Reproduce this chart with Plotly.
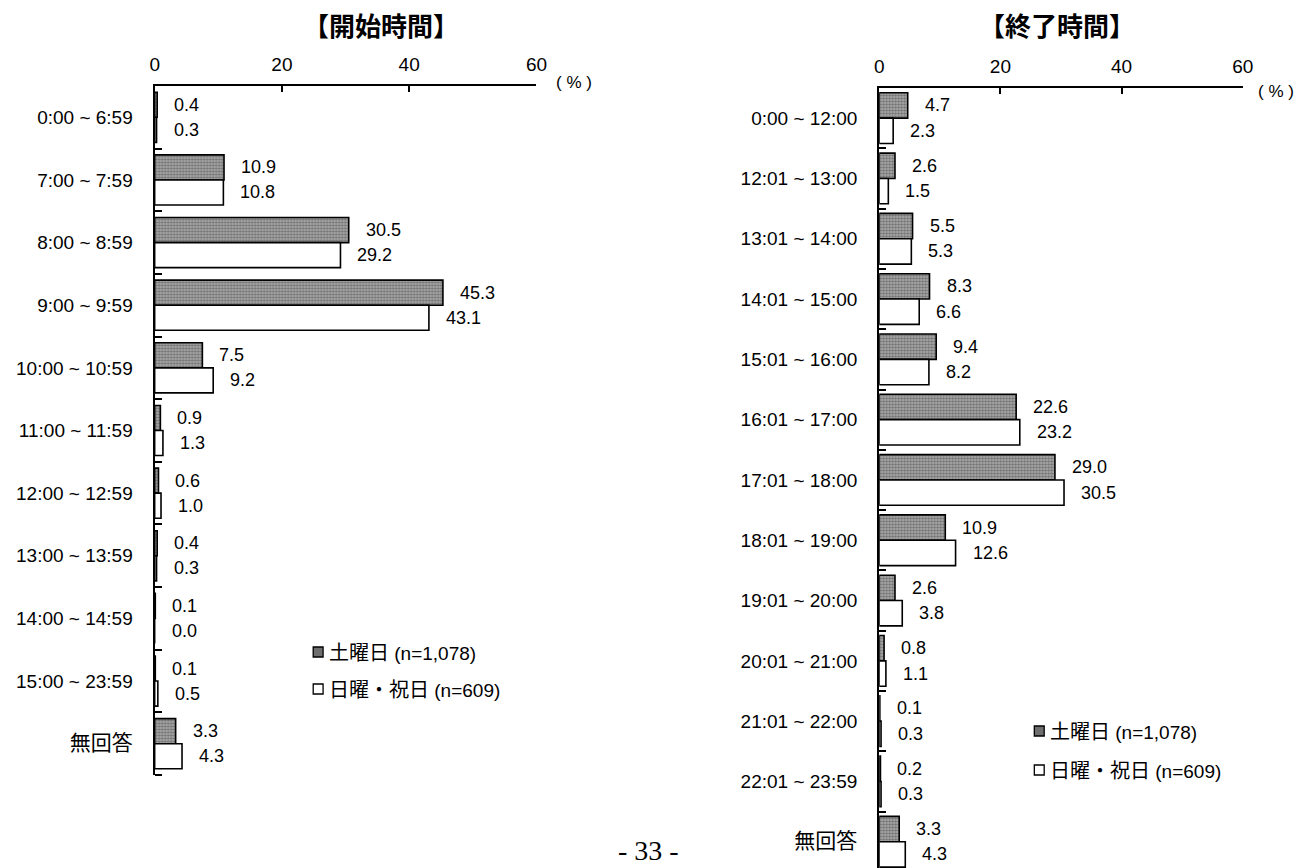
import plotly.graph_objects as go

W, H = 1315, 868

# ---------------- data ----------------
start_categories = ["0:00 ~ 6:59", "7:00 ~ 7:59", "8:00 ~ 8:59", "9:00 ~ 9:59",
                    "10:00 ~ 10:59", "11:00 ~ 11:59", "12:00 ~ 12:59", "13:00 ~ 13:59",
                    "14:00 ~ 14:59", "15:00 ~ 23:59", "無回答"]
start_sat = [0.4, 10.9, 30.5, 45.3, 7.5, 0.9, 0.6, 0.4, 0.1, 0.1, 3.3]
start_sun = [0.3, 10.8, 29.2, 43.1, 9.2, 1.3, 1.0, 0.3, 0.0, 0.5, 4.3]

end_categories = ["0:00 ~ 12:00", "12:01 ~ 13:00", "13:01 ~ 14:00", "14:01 ~ 15:00",
                  "15:01 ~ 16:00", "16:01 ~ 17:00", "17:01 ~ 18:00", "18:01 ~ 19:00",
                  "19:01 ~ 20:00", "20:01 ~ 21:00", "21:01 ~ 22:00", "22:01 ~ 23:59", "無回答"]
end_sat = [4.7, 2.6, 5.5, 8.3, 9.4, 22.6, 29.0, 10.9, 2.6, 0.8, 0.1, 0.2, 3.3]
end_sun = [2.3, 1.5, 5.3, 6.6, 8.2, 23.2, 30.5, 12.6, 3.8, 1.1, 0.3, 0.3, 4.3]

x_ticks = [0, 20, 40, 60]
titles = ["【開始時間】", "【終了時間】"]
series_names = ["土曜日", "日曜・祝日"]
series_n = ["(n=1,078)", "(n=609)"]

# ---------------- styling ----------------
FONT = "Liberation Sans, Arial, Noto Sans CJK JP, sans-serif"
JFONT = "Noto Sans CJK JP, sans-serif"


def px(x):
    return x / W


def py(y):
    return 1 - y / H


sat_marker = dict(color="#b0b0b0", line=dict(color="black", width=1.6),
                  pattern=dict(shape=".", fgcolor="#333333", bgcolor="#b0b0b0",
                               size=3, solidity=0.5))
sun_marker = dict(color="white", line=dict(color="black", width=1.6))


def cat_label(c):
    if c == "無回答":
        return '<span style="font-size:21px">' + c + "</span>"
    return c


fig = go.Figure()

panels = [
    dict(cats=start_categories, sat=start_sat, sun=start_sun, xa="x", ya="y", bw=0.4),
    dict(cats=end_categories, sat=end_sat, sun=end_sun, xa="x2", ya="y2", bw=0.42),
]

annotations = []
for p in panels:
    idx = list(range(len(p["cats"])))
    bw = p["bw"]
    fig.add_trace(go.Bar(y=idx, x=p["sat"], orientation="h", width=bw, offset=-bw,
                         marker=sat_marker, xaxis=p["xa"], yaxis=p["ya"],
                         showlegend=False, hoverinfo="x"))
    fig.add_trace(go.Bar(y=idx, x=p["sun"], orientation="h", width=bw, offset=0,
                         marker=sun_marker, xaxis=p["xa"], yaxis=p["ya"],
                         showlegend=False, hoverinfo="x"))
    for i, (a, b) in enumerate(zip(p["sat"], p["sun"])):
        annotations.append(dict(x=a, y=i - bw / 2, xref=p["xa"], yref=p["ya"],
                                text=f"{a:.1f}", showarrow=False, xanchor="left",
                                yanchor="middle", xshift=15,
                                font=dict(family=FONT, size=18, color="black")))
        annotations.append(dict(x=b, y=i + bw / 2, xref=p["xa"], yref=p["ya"],
                                text=f"{b:.1f}", showarrow=False, xanchor="left",
                                yanchor="middle", xshift=15,
                                font=dict(family=FONT, size=18, color="black")))

# axes
common_x = dict(range=[0, 60], tickvals=x_ticks, side="top", showline=True,
                linecolor="black", linewidth=1.5, ticks="inside", ticklen=6,
                tickcolor="black", tickwidth=1.5, showgrid=False, zeroline=False,
                tickfont=dict(family=FONT, size=19, color="black"),
                ticklabelstandoff=6, fixedrange=True)

fig.update_layout(
    width=W, height=H,
    margin=dict(l=0, r=0, t=0, b=0),
    paper_bgcolor="white", plot_bgcolor="white",
    barmode="overlay",
    xaxis=dict(common_x, domain=[px(151.5), px(538)], anchor="y"),
    yaxis=dict(domain=[py(775), py(86)], range=[len(start_categories) - 0.5, -0.5],
               tickvals=list(range(len(start_categories))),
               ticktext=[cat_label(c) for c in start_categories],
               ticks="", showline=True, linecolor="black", linewidth=2.2,
               showgrid=False, zeroline=False, anchor="x",
               tickfont=dict(family=FONT, size=19, color="black"),
               ticklabelstandoff=16,
               minor=dict(tickvals=[i + 0.5 for i in range(len(start_categories))],
                          ticks="inside", ticklen=7, tickcolor="black", tickwidth=1.5),
               fixedrange=True),
    xaxis2=dict(common_x, domain=[px(885), px(1253)], anchor="y2"),
    yaxis2=dict(domain=[0, py(88)], range=[-0.5 + (868 - 88) / 60.3, -0.5],
                tickvals=list(range(len(end_categories))),
                ticktext=[cat_label(c) for c in end_categories],
                ticks="", showline=True, linecolor="black", linewidth=2.2,
                showgrid=False, zeroline=False, anchor="x2",
                tickfont=dict(family=FONT, size=19, color="black"),
                ticklabelstandoff=16,
                minor=dict(tickvals=[i + 0.5 for i in range(len(end_categories))],
                           ticks="inside", ticklen=7, tickcolor="black", tickwidth=1.5),
                fixedrange=True),
)

# titles
for t, cx in zip(titles, [381, 1065]):
    annotations.append(dict(x=px(cx), y=py(25), xref="paper", yref="paper", text="<b>" + t + "</b>",
                            showarrow=False, xanchor="center", yanchor="middle",
                            font=dict(family=JFONT, size=26, color="black")))

# (%) units
for cx, cy in [(576, 83), (1287, 91)]:
    annotations.append(dict(x=px(cx), y=py(cy), xref="paper", yref="paper", text="( % )",
                            showarrow=False, xanchor="center", yanchor="middle",
                            font=dict(family=FONT, size=17, color="black")))

# legends (manual)
shapes = []
legend_pos = [(312, 652, 689), (1042, 731, 770)]
for lx, y1, y2 in legend_pos:
    for k, yy in enumerate([y1, y2]):
        fill = "#6e6e6e" if k == 0 else "white"
        shapes.append(dict(type="rect", xref="paper", yref="paper",
                           x0=px(lx), x1=px(lx + 10), y0=py(yy + 5), y1=py(yy - 5),
                           fillcolor=fill, line=dict(color="black", width=1.3)))
        annotations.append(dict(x=px(lx + 14), y=py(yy + 1), xref="paper", yref="paper",
                                text='<span style="font-size:20px">' + series_names[k] +
                                     '</span><span style="font-size:19px"> ' + series_n[k] + "</span>",
                                showarrow=False, xanchor="left", yanchor="middle",
                                font=dict(family=FONT, size=20, color="black")))

# page number
annotations.append(dict(x=px(651), y=py(850), xref="paper", yref="paper", text="- 33 -",
                        showarrow=False, xanchor="center", yanchor="middle",
                        font=dict(family="Liberation Serif, Times New Roman, serif", size=28,
                                  color="black")))

fig.update_layout(annotations=annotations, shapes=shapes)

fig.write_html("out.html", config={"displayModeBar": False},
               post_script="document.body.style.margin='0px';document.body.style.overflow='hidden';")
